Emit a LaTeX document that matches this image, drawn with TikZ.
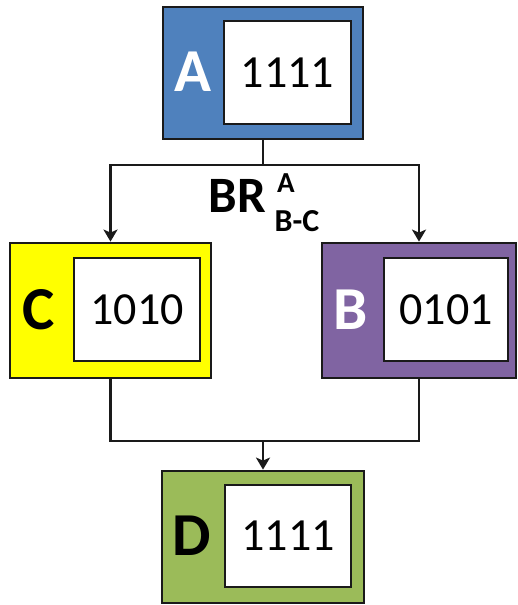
\documentclass[tikz,border=0pt]{standalone}
\usepackage{fontspec}
\setmainfont{Carlito}
\usetikzlibrary{arrows.meta}
\definecolor{cblue}{HTML}{4F81BD}
\definecolor{cyellow}{HTML}{FFFF00}
\definecolor{cpurple}{HTML}{8064A2}
\definecolor{cgreen}{HTML}{9BBB59}
\definecolor{edge}{HTML}{1A1A1A}
\tikzset{
  outerbox/.style={draw=edge, line width=2.8bp, rectangle, inner sep=0pt},
  innerbox/.style={draw=edge, fill=white, line width=2.6bp, rectangle, inner sep=0pt,
     font=\fontsize{46bp}{50bp}\selectfont},
  letter/.style={inner sep=0pt, font=\fontsize{61bp}{64bp}\selectfont\bfseries},
  conn/.style={draw=edge, line width=2.6bp},
  arr/.style={conn, -{Stealth[length=12bp, width=14bp, inset=3bp]}},
}
\begin{document}
\begin{tikzpicture}[x=1bp, y=-1bp]
\useasboundingbox (0,0) rectangle (518,605);
% outer boxes
\node[outerbox, fill=cblue,   minimum width=200bp, minimum height=132bp] (A) at (263,73) {};
\node[outerbox, fill=cyellow, minimum width=201bp, minimum height=135bp] (C) at (110.5,310.5) {};
\node[outerbox, fill=cpurple, minimum width=194bp, minimum height=135bp] (B) at (419,310.5) {};
\node[outerbox, fill=cgreen,  minimum width=202bp, minimum height=132bp] (D) at (263,537) {};
% inner boxes
\node[innerbox, minimum width=127bp, minimum height=103bp] (Ai) at (287.5,72.5) {1111};
\node[innerbox, minimum width=126bp, minimum height=103bp] (Ci) at (137,309.5) {1010};
\node[innerbox, minimum width=124bp, minimum height=103bp] (Bi) at (446,309.5) {0101};
\node[innerbox, minimum width=126bp, minimum height=102bp] (Di) at (288,536) {1111};
% letters
\node[letter, text=white] (Al) at (193,72) {A};
\node[letter, text=black] (Cl) at (39,310) {C};
\node[letter, text=white] (Bl) at (351,310) {B};
\node[letter, text=black] (Dl) at (192,536) {D};
% connectors
\coordinate (j) at (263,165);
\coordinate (m) at (263,441);
\draw[conn] (A.south) -- (j);
\draw[arr] (j) -| (C.north);
\draw[arr] (j) -| (B.north);
\draw[conn] (C.south) |- (m);
\draw[conn] (B.south) |- (m);
\draw[arr] (m) -- (D.north);
% label
\node[inner sep=0pt, font=\fontsize{51bp}{54bp}\selectfont\bfseries] (br) at (237.5,196) {BR};
\node[inner sep=0pt, font=\fontsize{29bp}{32bp}\selectfont\bfseries] (brsup) at (286,183) {A};
\node[inner sep=0pt, font=\fontsize{32bp}{34bp}\selectfont\bfseries] (brsub) at (297,221) {B-C};
\end{tikzpicture}
\end{document}
